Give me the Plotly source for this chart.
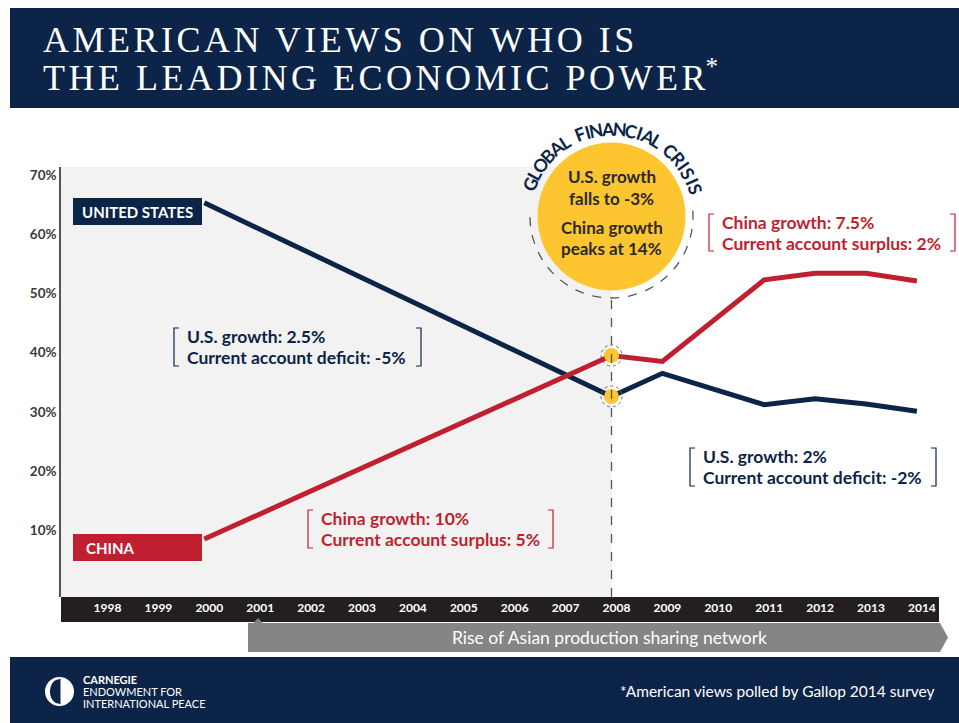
import math
import plotly.graph_objects as go

# ---------------- data ----------------
years_us = [2000, 2008, 2009, 2011, 2012, 2013, 2014]
us_values = [65.3, 32.6, 36.5, 31.2, 32.2, 31.3, 30.1]
years_cn = [2000, 2008, 2009, 2011, 2012, 2013, 2014]
china_values = [8.5, 39.5, 38.5, 52.3, 53.4, 53.4, 52.1]
crisis_year = 2008
tick_years = list(range(1998, 2015))
tick_labels = [str(y) for y in tick_years]
y_ticks = [10, 20, 30, 40, 50, 60, 70]
y_tick_labels = [f"{v}%" for v in y_ticks]

W, H = 959, 723
NAVY = "#0c2447"
RED = "#c01f2f"
YELLOW = "#fdc530"
GRAYBG = "#f2f2f2"
BAND = "#231f20"
ARROW = "#858585"
DARK = "#2a2a2a"


def PX(x):
    return x / W


def PY(y):
    return 1 - y / H


fig = go.Figure()

fig.add_trace(go.Scatter(x=years_us, y=us_values, mode="lines",
                         line=dict(color=NAVY, width=5), hoverinfo="skip"))
fig.add_trace(go.Scatter(x=years_cn, y=china_values, mode="lines",
                         line=dict(color=RED, width=5), hoverinfo="skip"))
i_us = years_us.index(crisis_year)
i_cn = years_cn.index(crisis_year)
fig.add_trace(go.Scatter(x=[crisis_year, crisis_year],
                         y=[us_values[i_us], china_values[i_cn]],
                         mode="markers",
                         marker=dict(color=YELLOW, size=15, line=dict(width=0)),
                         hoverinfo="skip"))

shapes = []
ann = []

# title banner
shapes.append(dict(type="rect", xref="paper", yref="paper", x0=PX(10), x1=PX(959),
                   y0=PY(108), y1=PY(8), fillcolor=NAVY, line=dict(width=0), layer="below"))
ann.append(dict(xref="paper", yref="paper", x=PX(41), y=PY(40), xanchor="left", yanchor="middle",
                text='<span style="letter-spacing:3.5px">AMERICAN VIEWS ON WHO IS</span>',
                showarrow=False, font=dict(family="Liberation Serif", size=36, color="white")))
ann.append(dict(xref="paper", yref="paper", x=PX(41), y=PY(76), xanchor="left", yanchor="middle",
                text='<span style="letter-spacing:3.5px">THE LEADING ECONOMIC POWE</span>R<sup>*</sup>',
                showarrow=False, font=dict(family="Liberation Serif", size=36, color="white")))

# gray background for the pre-crisis period
shapes.append(dict(type="rect", xref="x", yref="paper", x0=1997.0, x1=crisis_year,
                   y0=PY(597), y1=PY(167), fillcolor=GRAYBG, line=dict(width=0), layer="below"))
# black year band
shapes.append(dict(type="rect", xref="paper", yref="paper", x0=PX(61), x1=PX(939),
                   y0=PY(622), y1=PY(597), fillcolor=BAND, line=dict(width=0), layer="below"))
# arrow
arrow_path = "M {} {} L {} {} L {} {} L {} {} L {} {} Z".format(
    PX(248), PY(623), PX(940), PY(623), PX(948), PY(637.5), PX(940), PY(652), PX(248), PY(652))
shapes.append(dict(type="path", xref="paper", yref="paper", path=arrow_path,
                   fillcolor=ARROW, line=dict(width=0)))
notch = "M {} {} L {} {} L {} {} Z".format(PX(253), PY(623.5), PX(258), PY(618), PX(263), PY(623.5))
shapes.append(dict(type="path", xref="paper", yref="paper", path=notch,
                   fillcolor=ARROW, line=dict(width=0)))
ann.append(dict(xref="paper", yref="paper", x=PX(609), y=PY(637.5), xanchor="center", yanchor="middle",
                text="Rise of Asian production sharing network", showarrow=False,
                font=dict(family="Lato", size=17.5, color="white")))

# footer
shapes.append(dict(type="rect", xref="paper", yref="paper", x0=PX(10), x1=PX(959),
                   y0=PY(723), y1=PY(657), fillcolor=NAVY, line=dict(width=0)))
ann.append(dict(xref="paper", yref="paper", x=PX(937), y=PY(691), xanchor="right", yanchor="middle",
                text="*American views polled by Gallop 2014 survey", showarrow=False,
                font=dict(family="Lato", size=15.5, color="white")))
# logo
lcx, lcy, lr = 59.5, 691.5, 14.5
shapes.append(dict(type="circle", xref="paper", yref="paper", x0=PX(lcx - lr), x1=PX(lcx + lr),
                   y0=PY(lcy + lr), y1=PY(lcy - lr), fillcolor="white", line=dict(width=0)))
pts = []
for k in range(0, 41):
    t = math.radians(90 + 180 * k / 40)
    pts.append((lcx - 1 + 8.5 * math.cos(t), lcy + 12 * math.sin(t)))
pts.append((lcx + 1, lcy - 13))
pts.append((lcx + 1, lcy + 13))
lp = "M " + " L ".join(f"{PX(a)} {PY(b)}" for a, b in pts) + " Z"
shapes.append(dict(type="path", xref="paper", yref="paper", path=lp,
                   fillcolor=NAVY, line=dict(width=0)))
for txt, yy, bold in [("CARNEGIE", 679.5, True), ("ENDOWMENT FOR", 691.5, False),
                      ("INTERNATIONAL PEACE", 703.5, False)]:
    ann.append(dict(xref="paper", yref="paper", x=PX(81), y=PY(yy), xanchor="left", yanchor="middle",
                    text=f"<b>{txt}</b>" if bold else txt, showarrow=False,
                    font=dict(family="Lato", size=11, color="white")))

# crisis circle
ccx, ccy, cr = 611.5, 216.5, 74
shapes.append(dict(type="circle", xref="paper", yref="paper", x0=PX(ccx - cr), x1=PX(ccx + cr),
                   y0=PY(ccy + cr), y1=PY(ccy - cr), fillcolor=YELLOW, line=dict(width=0)))
rr = 81.5
arc = []
for k in range(0, 61):
    t = math.radians(-4 + 188 * k / 60)
    arc.append((ccx + rr * math.cos(t), ccy + rr * math.sin(t)))
ap = "M " + " L ".join(f"{PX(a)} {PY(b)}" for a, b in arc)
shapes.append(dict(type="path", xref="paper", yref="paper", path=ap,
                   line=dict(color="#555555", width=1.3, dash="dash")))
# dashed vertical line
shapes.append(dict(type="line", xref="x", yref="paper", x0=crisis_year, x1=crisis_year,
                   y0=PY(597), y1=PY(ccy + rr), line=dict(color="#555555", width=1.3, dash="dash")))
# rings around the dots
for v in (us_values[i_us], china_values[i_cn]):
    shapes.append(dict(type="circle", xref="x", yref="y", xsizemode="pixel", ysizemode="pixel",
                       xanchor=crisis_year, yanchor=v, x0=-10.5, x1=10.5, y0=-10.5, y1=10.5,
                       line=dict(color="#666666", width=1, dash="dot")))

for txt, yy in [("U.S. growth", 176), ("falls to -3%", 198), ("China growth", 227), ("peaks at 14%", 248)]:
    ann.append(dict(xref="paper", yref="paper", x=PX(ccx), y=PY(yy), xanchor="center", yanchor="middle",
                    text=f"<b>{txt}</b>", showarrow=False,
                    font=dict(family="Lato", size=17, color=DARK)))

# curved title
arc_text = "GLOBAL FINANCIAL CRISIS"
widths = []
for ch in arc_text:
    if ch == " ":
        widths.append(0.35)
    elif ch == "I":
        widths.append(0.32)
    elif ch in "MW":
        widths.append(0.9)
    elif ch == "L":
        widths.append(0.55)
    else:
        widths.append(0.68)
cum = []
s = 0
for w_ in widths:
    cum.append(s + w_ / 2)
    s += w_
a0, a1 = -158.0, -18.0
R = 88
for ch, c in zip(arc_text, cum):
    if ch == " ":
        continue
    a = a0 + (a1 - a0) * (c - cum[0]) / (cum[-1] - cum[0])
    ar = math.radians(a)
    x = ccx + R * math.cos(ar)
    y = ccy + R * math.sin(ar)
    ann.append(dict(xref="paper", yref="paper", x=PX(x), y=PY(y), xanchor="center", yanchor="middle",
                    text=f"<b>{ch}</b>", showarrow=False, textangle=a + 90,
                    font=dict(family="Lato", size=18, color=NAVY)))

# series labels
shapes.append(dict(type="rect", xref="paper", yref="paper", x0=PX(73), x1=PX(202),
                   y0=PY(225), y1=PY(198), fillcolor=NAVY, line=dict(width=0)))
ann.append(dict(xref="paper", yref="paper", x=PX(80), y=PY(211.5), xanchor="left", yanchor="middle",
                text="<b>UNITED STATES</b>", showarrow=False,
                font=dict(family="Lato", size=15, color="white")))
shapes.append(dict(type="rect", xref="paper", yref="paper", x0=PX(73), x1=PX(202),
                   y0=PY(561), y1=PY(534), fillcolor=RED, line=dict(width=0)))
ann.append(dict(xref="paper", yref="paper", x=PX(84), y=PY(548), xanchor="left", yanchor="middle",
                text="<b>CHINA</b>", showarrow=False,
                font=dict(family="Lato", size=15, color="white")))


def bracket_note(xl, xr, y0, y1, lines, color):
    for side, xx in (("l", xl), ("r", xr)):
        d = 5 if side == "l" else -5
        p = "M {} {} L {} {} L {} {} L {} {}".format(PX(xx + d), PY(y0), PX(xx), PY(y0),
                                                     PX(xx), PY(y1), PX(xx + d), PY(y1))
        shapes.append(dict(type="path", xref="paper", yref="paper", path=p,
                           line=dict(color=color, width=1.2)))
    ymid = (y0 + y1) / 2
    for k, t in enumerate(lines):
        yy = ymid - 10.5 + 21 * k
        ann.append(dict(xref="paper", yref="paper", x=PX(xl + 11), y=PY(yy), xanchor="left",
                        yanchor="middle", text=f"<b>{t}</b>", showarrow=False,
                        font=dict(family="Lato", size=17.5, color=color)))


bracket_note(174, 421, 328, 366, ["U.S. growth: 2.5%", "Current account deficit: -5%"], NAVY)
bracket_note(308, 553, 510, 548, ["China growth: 10%", "Current account surplus: 5%"], RED)
bracket_note(709, 955, 214, 251, ["China growth: 7.5%", "Current account surplus: 2%"], RED)
bracket_note(690, 936, 448, 486, ["U.S. growth: 2%", "Current account deficit: -2%"], NAVY)

# axes mapping: 2008 -> px 611.5, 50.9 px per year; 0% -> px 589.4, 5.92 px per %
x_left = crisis_year - (611.5 - 61) / 50.9
x_right = crisis_year + (939 - 611.5) / 50.9
y_bottom = (589.4 - 597) / 5.92
y_top = (589.4 - 167) / 5.92

fig.update_layout(
    width=W, height=H, autosize=False,
    margin=dict(l=0, r=0, t=0, b=0),
    paper_bgcolor="white", plot_bgcolor="rgba(0,0,0,0)",
    showlegend=False,
    shapes=shapes, annotations=ann,
    xaxis=dict(domain=[PX(61), PX(939)], range=[x_left, x_right], tickvals=tick_years,
               ticktext=tick_labels, showgrid=False, zeroline=False, showline=False, ticks="",
               ticklabelshift=5, ticklabelstandoff=2,
               tickfont=dict(family="Lato", size=12, color="white", weight="bold")),
    yaxis=dict(domain=[PY(597), PY(167)], range=[y_bottom, y_top], tickvals=y_ticks,
               ticktext=y_tick_labels, showgrid=False, zeroline=False, showline=True,
               linecolor="#555555", linewidth=1.5, ticks="",
               tickfont=dict(family="Lato", size=13.5, color="#3a3a3a", weight="bold")),
)

fig.write_html("out.html", post_script="document.body.style.margin='0';",
               config={"displayModeBar": False})
